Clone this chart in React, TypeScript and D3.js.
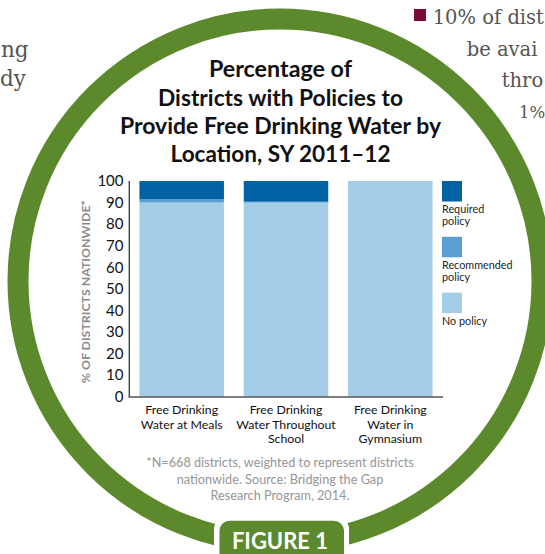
import React from 'react';
import * as d3 from 'd3';

// ---- data ----
const categories: string[][] = [
  ['Free Drinking', 'Water at Meals'],
  ['Free Drinking', 'Water Throughout', 'School'],
  ['Free Drinking', 'Water in', 'Gymnasium'],
];
const noPolicy = [90, 90, 100];
const recommendedPolicy = [1.5, 0.4, 0];
const requiredPolicy = [8.5, 9.6, 0];
const seriesKeys = ['none', 'recommended', 'required'];
const legendItems = [
  { key: 'required', lines: ['Required', 'policy'] },
  { key: 'recommended', lines: ['Recommended', 'policy'] },
  { key: 'none', lines: ['No policy'] },
];
const yTicks = [0, 10, 20, 30, 40, 50, 60, 70, 80, 90, 100];
const titleLines = [
  'Percentage of',
  'Districts with Policies to',
  'Provide Free Drinking Water by',
  'Location, SY 2011–12',
];
const titleWidths = [143, 245, 321, 220];
const footnoteLines = [
  '*N=668 districts, weighted to represent districts',
  'nationwide. Source: Bridging the Gap',
  'Research Program, 2014.',
];
const yAxisTitle = '% OF DISTRICTS NATIONWIDE*';
const figureLabel = 'FIGURE 1';
const leftPageText = ['ng', 'dy'];
const rightPageText = ['10% of dist', 'be avai', 'thro', '1%'];

const colors: Record<string, string> = {
  required: '#0062a4',
  recommended: '#5a9fd2',
  none: '#a3cce6',
};

const SANS = 'Lato, "Open Sans", sans-serif';
const SERIF = '"DejaVu Serif", serif';
const GREEN = '#5b892b';

export default function App() {
  const W = 545;
  const H = 554;
  const x = d3
    .scaleBand<number>()
    .domain(d3.range(categories.length))
    .range([129, 443])
    .paddingInner(0.19)
    .paddingOuter(0.1);
  const y = d3.scaleLinear().domain([0, 100]).range([396.7, 181]);

  const rows = categories.map((_, i) => ({
    i,
    none: noPolicy[i],
    recommended: recommendedPolicy[i],
    required: requiredPolicy[i],
  }));
  const stack = d3.stack<any>().keys(seriesKeys);
  const layers = stack(rows);

  const cx = 280;
  const cy = 281;
  const r = 262;

  const rightX = [432.7, 466.7, 501.7, 519];
  const rightY = [24.3, 55.5, 86.7, 118.3];

  return (
    <svg
      width={W}
      height={H}
      viewBox={`0 0 ${W} ${H}`}
      style={{ position: 'absolute', left: 0, top: 0, background: '#fff', overflow: 'hidden' }}
    >
      <rect x={0} y={0} width={W} height={H} fill="#fff" />

      {/* surrounding page text */}
      <g fontFamily={SERIF} fill="#555">
        <text x={1} y={56.7} fontSize={21.5}>{leftPageText[0]}</text>
        <text x={0} y={86} fontSize={21.5}>{leftPageText[1]}</text>
        <rect x={414} y={9} width={12} height={12} fill="#7a0a36" />
        {rightPageText.map((t, i) => (
          <text key={i} x={rightX[i]} y={rightY[i]} fontSize={i === 3 ? 16.5 : 19.5}>
            {t}
          </text>
        ))}
      </g>

      {/* ring */}
      <circle cx={cx} cy={cy} r={r} fill="#fff" stroke={GREEN} strokeWidth={21} />

      {/* title */}
      <g fontFamily={SANS} fontWeight={700} fontSize={22} fill="#111" textAnchor="middle">
        {titleLines.map((t, i) => (
          <text
            key={i}
            x={280.5}
            y={77.2 + i * 28.4}
            textLength={titleWidths[i]}
            lengthAdjust="spacingAndGlyphs"
          >
            {t}
          </text>
        ))}
      </g>

      {/* bars */}
      <g>
        {layers.map((layer) =>
          layer.map((d, i) => {
            const h = y(d[0]) - y(d[1]);
            if (h <= 0) return null;
            return (
              <rect
                key={layer.key + i}
                x={x(i)}
                y={y(d[1])}
                width={x.bandwidth()}
                height={h}
                fill={colors[layer.key]}
              />
            );
          })
        )}
      </g>

      {/* axes */}
      <line x1={129.3} x2={129.3} y1={181} y2={397} stroke="#333" strokeWidth={1.3} />
      <line x1={128.6} x2={443} y1={397} y2={397} stroke="#555" strokeWidth={1.4} />
      <g fontFamily={SANS} fontSize={15} fill="#111" textAnchor="end">
        {yTicks.map((t) => (
          <text key={t} x={123.5} y={y(t) + 5.3}>
            {t}
          </text>
        ))}
      </g>
      <text
        transform={`translate(89.5,291.7) rotate(-90)`}
        textAnchor="middle"
        fontFamily={SANS}
        fontWeight={700}
        fontSize={10.5}
        fill="#8c8c8c"
        textLength={183}
        lengthAdjust="spacingAndGlyphs"
      >
        {yAxisTitle}
      </text>

      {/* category labels */}
      <g fontFamily={SANS} fontSize={12.3} fill="#111" textAnchor="middle">
        {categories.map((lines, i) =>
          lines.map((l, j) => (
            <text key={i + '-' + j} x={(x(i) as number) + x.bandwidth() / 2} y={414 + j * 14.6}>
              {l}
            </text>
          ))
        )}
      </g>

      {/* legend */}
      <g fontFamily={SANS} fontSize={10.8} fill="#222">
        {legendItems.map((it, k) => {
          const top = 181 + k * 55.8;
          return (
            <g key={it.key}>
              <rect x={442} y={top} width={20} height={20.5} fill={colors[it.key]} />
              {it.lines.map((l, j) => (
                <text key={j} x={442} y={top + 32 + j * 11.8}>
                  {l}
                </text>
              ))}
            </g>
          );
        })}
      </g>

      {/* footnote */}
      <g fontFamily={SANS} fontSize={12.7} fill="#969696" textAnchor="middle">
        {footnoteLines.map((l, i) => (
          <text key={i} x={280} y={466.7 + i * 16.8}>
            {l}
          </text>
        ))}
      </g>

      {/* figure label */}
      <rect x={214} y={515.5} width={135} height={60} rx={14} fill="#fff" />
      <rect x={219.5} y={520.7} width={124.5} height={50} rx={10} fill={GREEN} />
      <text
        x={280}
        y={548.5}
        textAnchor="middle"
        fontFamily={SANS}
        fontWeight={700}
        fontSize={22}
        fill="#fff"
      >
        {figureLabel}
      </text>
    </svg>
  );
}
